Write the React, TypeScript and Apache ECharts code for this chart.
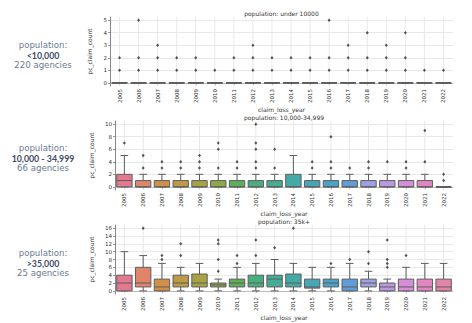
import React, { useEffect, useRef } from 'react';
import * as echarts from 'echarts';

const years = ['2005', '2006', '2007', '2008', '2009', '2010', '2011', '2012', '2013', '2014', '2015', '2016', '2017', '2018', '2019', '2020', '2021', '2022'];

const boxColors = ['#e4788c', '#e0846a', '#d28f48', '#bd9a45', '#a8a246', '#8fa947', '#5fae5c', '#49ae7f', '#47ac96', '#45aaa6', '#47a7b6', '#4ba2c8', '#5f9dd9', '#9ea0e2', '#bb98e2', '#d68ed9', '#e286c2', '#e384a9'];

// [min, q1, median, q3, max]
const smallBoxes = [
  [0, 0, 0, 0, 0], [0, 0, 0, 0, 0], [0, 0, 0, 0, 0], [0, 0, 0, 0, 0], [0, 0, 0, 0, 0], [0, 0, 0, 0, 0],
  [0, 0, 0, 0, 0], [0, 0, 0, 0, 0], [0, 0, 0, 0, 0], [0, 0, 0, 0, 0], [0, 0, 0, 0, 0], [0, 0, 0, 0, 0],
  [0, 0, 0, 0, 0], [0, 0, 0, 0, 0], [0, 0, 0, 0, 0], [0, 0, 0, 0, 0], [0, 0, 0, 0, 0], [0, 0, 0, 0, 0],
];
const smallOutliers = [
  [1, 2], [1, 2, 5], [1, 2, 3], [1, 2], [1, 2], [1], [1, 2], [1, 2, 3], [1, 2],
  [1, 2], [1, 2], [1, 2, 5], [1, 2, 3], [1, 2, 4], [1, 2, 3], [1, 2, 4], [1], [1],
];

const midBoxes = [
  [0, 0, 1, 2, 5], [0, 0, 0, 1, 2], [0, 0, 0, 1, 2], [0, 0, 0, 1, 2], [0, 0, 0, 1, 2], [0, 0, 0, 1, 2],
  [0, 0, 0, 1, 2], [0, 0, 0, 1, 2], [0, 0, 0, 1, 2], [0, 0, 0, 2, 5], [0, 0, 0, 1, 2], [0, 0, 0, 1, 2],
  [0, 0, 0, 1, 2], [0, 0, 0, 1, 2], [0, 0, 0, 1, 2], [0, 0, 0, 1, 2], [0, 0, 0, 1, 2], [0, 0, 0, 0, 0],
];
const midOutliers = [
  [7], [3, 5], [3, 4], [3, 4], [3, 4, 5], [3, 6, 7], [3, 4], [3, 4, 6, 7, 10], [3, 6],
  [], [3, 4], [3, 4, 8], [3], [3, 4], [4], [3, 4], [4, 9], [1, 2],
];

const largeBoxes = [
  [0, 0, 2, 4, 10], [0, 1, 2, 6, 9], [0, 0, 1, 3, 7], [0, 1, 2, 4, 6], [0, 1, 2, 4.3, 7], [0, 1, 1.5, 2, 3],
  [0, 1, 2, 3, 6], [0, 1, 2, 4, 7], [0, 1, 3, 4, 8], [0, 1, 2, 4.3, 7], [0, 0.7, 1, 3, 6], [0, 1, 2, 3, 6],
  [0, 0, 1, 3, 7], [0, 1, 2, 3, 5], [0, 0, 1, 2, 3], [0, 0, 1, 3, 6], [0, 0, 1, 3, 7], [0, 0, 1, 3, 7],
];
const largeOutliers = [
  [], [16], [8, 9], [9, 12], [], [5, 8, 12, 13], [7, 9], [9, 13], [11],
  [16], [], [7], [8], [7, 10], [6, 7, 8, 13], [9], [], [],
];

const panelTitles = ['population: under 10000', 'population: 10,000-34,999', 'population: 35k+'];
const yRanges = [[-0.25, 5.25, 1], [-0.5, 10.5, 2], [-0.8, 16.8, 2]];
const sideLines = [
  ['population:', '<10,000', '220 agencies'],
  ['population:', '10,000 - 34,999', '66 agencies'],
  ['population:', '>35,000', '25 agencies'],
];

const grids = [
  { left: 110, top: 17, width: 343, height: 69 },
  { left: 115, top: 121, width: 338, height: 69 },
  { left: 115, top: 225, width: 338, height: 69 },
];
const nameGaps = [8, 12, 12];
const sideY = [45, 148, 253];
const titleY = [13, 117, 221];

const tickFont = 'DejaVu Sans';

const renderBox = (params: any, api: any) => {
  const i = api.value(0);
  const cs = params.coordSys;
  const band = api.size([1, 0])[0];
  const bw = band * 0.82;
  const cx = api.coord([i, 0])[0];
  const yLo = api.coord([i, api.value(1)])[1];
  const yQ1 = api.coord([i, api.value(2)])[1];
  const yMed = api.coord([i, api.value(3)])[1];
  const yQ3 = api.coord([i, api.value(4)])[1];
  const yHi = api.coord([i, api.value(5)])[1];
  const edge = '#5e5e5e';
  const lw = 1;
  const color = boxColors[params.dataIndex % boxColors.length];
  const cap = bw / 4;
  const flat = yQ1 - yQ3 < 0.5;
  return {
    type: 'group',
    children: [
      { type: 'line', shape: { x1: cx, y1: cs.y, x2: cx, y2: cs.y + cs.height }, style: { stroke: '#e2e2e2', lineWidth: 0.8 } },
      { type: 'line', shape: { x1: cx, y1: yQ3, x2: cx, y2: yHi }, style: { stroke: edge, lineWidth: lw } },
      { type: 'line', shape: { x1: cx, y1: yQ1, x2: cx, y2: yLo }, style: { stroke: edge, lineWidth: lw } },
      { type: 'line', shape: { x1: cx - cap, y1: yHi, x2: cx + cap, y2: yHi }, style: { stroke: edge, lineWidth: lw } },
      { type: 'line', shape: { x1: cx - cap, y1: yLo, x2: cx + cap, y2: yLo }, style: { stroke: edge, lineWidth: lw } },
      { type: 'rect', shape: { x: cx - bw / 2, y: yQ3, width: bw, height: Math.max(yQ1 - yQ3, 0) }, style: { fill: color, stroke: edge, lineWidth: flat ? 1.6 : lw } },
      { type: 'line', shape: { x1: cx - bw / 2, y1: yMed, x2: cx + bw / 2, y2: yMed }, style: { stroke: edge, lineWidth: flat ? 1.6 : lw } },
    ],
  };
};

export default function App() {
  const ref = useRef<HTMLDivElement>(null);
  useEffect(() => {
    if (!ref.current) return;
    const chart = echarts.init(ref.current, undefined, { renderer: 'svg' });
    const boxSets = [smallBoxes, midBoxes, largeBoxes];
    const outSets = [smallOutliers, midOutliers, largeOutliers];

    const xAxis = grids.map((_, k) => ({
      type: 'category',
      gridIndex: k,
      data: years,
      boundaryGap: true,
      name: 'claim_loss_year',
      nameLocation: 'middle',
      nameGap: 19,
      nameTextStyle: { fontSize: 6, color: '#333', fontFamily: tickFont },
      axisLine: { show: true, lineStyle: { color: '#b0b0b0', width: 0.8 } },
      axisTick: { show: true, alignWithLabel: true, length: 2, lineStyle: { color: '#555', width: 0.6 } },
      axisLabel: { rotate: 90, fontSize: 5.5, color: '#333', fontFamily: tickFont, margin: 3, interval: 0 },
      splitLine: { show: false },
    }));

    const yAxis = grids.map((_, k) => ({
      type: 'value',
      gridIndex: k,
      min: yRanges[k][0],
      max: yRanges[k][1],
      splitNumber: Math.round((yRanges[k][1] - yRanges[k][0]) / yRanges[k][2]),
      name: 'pc_claim_count',
      nameLocation: 'middle',
      nameGap: nameGaps[k],
      nameTextStyle: { fontSize: 6, color: '#333', fontFamily: tickFont },
      axisLine: { show: true, lineStyle: { color: '#555', width: 0.7 } },
      axisTick: { show: true, length: 2, lineStyle: { color: '#555', width: 0.6 } },
      axisLabel: {
        fontSize: 5.5, color: '#333', fontFamily: tickFont, margin: 3,
        showMinLabel: false, showMaxLabel: false,
        formatter: (v: number) => (Math.abs(v - Math.round(v)) < 1e-6 ? String(Math.round(v)) : ''),
      },
      splitLine: { show: true, showMinLine: false, showMaxLine: false, lineStyle: { color: '#e2e2e2', width: 0.8 } },
    }));

    const series: any[] = [];
    boxSets.forEach((boxes, k) => {
      series.push({
        type: 'custom',
        xAxisIndex: k,
        yAxisIndex: k,
        renderItem: renderBox,
        encode: { x: 0, y: [1, 2, 3, 4, 5] },
        data: boxes.map((b, i) => [i, ...b]),
        z: 2,
      });
      const pts: number[][] = [];
      outSets[k].forEach((vals, i) => vals.forEach((v) => pts.push([i, v])));
      series.push({
        type: 'scatter',
        xAxisIndex: k,
        yAxisIndex: k,
        symbol: 'diamond',
        symbolSize: [3, 3.5],
        itemStyle: { color: '#2b2b2b' },
        data: pts,
        z: 3,
      });
    });

    const graphics: any[] = [];
    panelTitles.forEach((t, k) => {
      graphics.push({
        type: 'text',
        x: grids[k].left + grids[k].width / 2,
        y: titleY[k],
        style: { text: t, fontSize: 6, fontFamily: tickFont, fill: '#333', align: 'center', verticalAlign: 'middle' },
      });
    });
    sideLines.forEach((lines, k) => {
      lines.forEach((line, j) => {
        const bold = j === 1;
        graphics.push({
          type: 'text',
          x: 43,
          y: sideY[k] + j * 10,
          style: {
            text: line,
            fontSize: bold ? 8.8 : 8.6,
            fontFamily: bold ? 'Lato' : 'DejaVu Sans',
            fontWeight: bold ? 'bold' : 'normal',
            fill: bold ? '#3d4b63' : '#6a7a90',
            align: 'center',
            verticalAlign: 'middle',
          },
        });
      });
    });

    chart.setOption({
      animation: false,
      backgroundColor: '#ffffff',
      grid: grids.map((g) => ({ ...g, containLabel: false })),
      xAxis,
      yAxis,
      series,
      graphic: graphics,
    });
    return () => chart.dispose();
  }, []);
  return <div ref={ref} style={{ position: 'fixed', left: 0, top: 0, width: 472, height: 323 }} />;
}
